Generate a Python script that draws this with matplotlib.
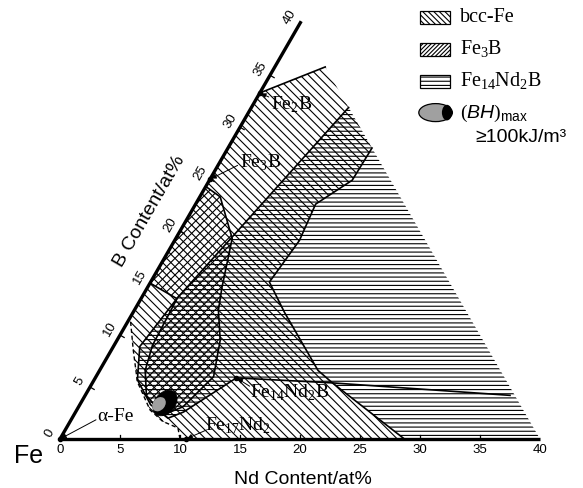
import numpy as np
import matplotlib
matplotlib.use("Agg")
import matplotlib.pyplot as plt
from matplotlib.patches import Polygon, Ellipse, Rectangle

plt.rcParams["mathtext.fontset"] = "custom"
plt.rcParams["mathtext.rm"] = "Liberation Serif"
plt.rcParams["mathtext.it"] = "Liberation Sans:italic"
plt.rcParams["mathtext.sf"] = "Liberation Sans"
plt.rcParams["hatch.linewidth"] = 0.8

# ---------------- data (ternary coordinates: Nd at%, B at%) ----------------
nd_ticks = [0, 5, 10, 15, 20, 25, 30, 35, 40]
b_ticks = [0, 5, 10, 15, 20, 25, 30, 35, 40]

# bcc-Fe region
bcc_nd = [0, 0, 4.2, 12.0, 11.9, 10.0, 10.4, 9.9, 12.6, 18.2, 20.0, 28.7, 10.0, 9.3, 7.7, 6.1, 3.7, 1.8]
bcc_b = [11.7, 33.3, 35.8, 28.0, 24.9, 22.6, 19.1, 15.1, 12.2, 6.6, 5.4, 0, 0, 1.06, 1.7, 2.8, 5.5, 8.6]

# Fe3B region
fe3b_nd = [0, 0, 1.7, 4.7, 6.2, 7.0, 8.6, 9.8, 8.7, 7.4, 5.1, 3.8, 3.2, 3.0]
fe3b_b = [15.0, 24.3, 23.3, 19.3, 14.6, 12.4, 9.5, 6.0, 3.1, 2.3, 4.2, 6.6, 9.0, 13.5]

# Fe14Nd2B region
fe14_nd = [8.1, 40.0, 28.7, 20.0, 11.76, 9.0, 8.0, 5.9, 3.6, 2.2, 3.0]
fe14_b = [31.9, 0, 0, 5.4, 5.88, 2.6, 2.0, 3.3, 5.7, 8.9, 13.6]

# boundary lines
top_nd, top_b = [0, 4.2], [33.3, 35.8]
bccr_nd = [12.0, 11.9, 10.0, 10.4, 9.9, 12.6, 18.2, 20.0, 28.7]
bccr_b = [28.0, 24.9, 22.6, 19.1, 15.1, 12.2, 6.6, 5.4, 0]
bccd_nd = [10.0, 9.3, 7.7, 6.1, 3.7, 1.8, 0]
bccd_b = [0, 1.06, 1.7, 2.8, 5.5, 8.6, 11.7]
fe14l_nd = [8.1, 3.0, 2.2, 3.6, 5.9, 8.0, 9.0, 11.76]
fe14l_b = [31.9, 13.6, 8.9, 5.7, 3.3, 2.0, 2.6, 5.88]
tie_nd, tie_b = [11.76, 20.0, 35.4], [5.88, 5.4, 4.2]

# compounds
comp_names = ["Fe$_2$B", "Fe$_3$B", "Fe$_{14}$Nd$_2$B", "Fe$_{17}$Nd$_2$", "α-Fe"]
comp_nd = [0, 0, 11.76, 10.5, 0]
comp_b = [33.3, 25.0, 5.88, 0, 0]
label_x = [19.3, 16.7, 19.1, 14.8, 4.6]
label_y = [27.9, 23.1, 3.9, 1.15, 1.85]
arrow_from_x = [17.4, 14.8, 15.8, 12.2, 3.0]
arrow_from_y = [28.5, 22.8, 4.4, 0.75, 1.6]

legend_labels = ["bcc-Fe", "Fe$_3$B", "Fe$_{14}$Nd$_2$B"]
legend_hatches = ["\\\\\\\\\\\\", "////////", "----"]


def tern(nd, b):
    nd = np.asarray(nd, dtype=float)
    b = np.asarray(b, dtype=float)
    return nd + b / 2.0, b * np.sqrt(3) / 2.0


fig = plt.figure(figsize=(5.83, 4.88), dpi=100)
ax = fig.add_axes([0, 0, 1, 1])
ax.set_xlim(-5, 43.583)
ax.set_ylim(-4.083, 36.583)
ax.axis("off")

def hpoly(nd, b, hatch):
    x, y = tern(nd, b)
    p = Polygon(np.column_stack([x, y]), closed=True, fill=False,
                hatch=hatch, edgecolor="black", linewidth=0)
    ax.add_patch(p)

hpoly(fe14_nd, fe14_b, "----")
hpoly(bcc_nd, bcc_b, "\\\\\\\\")
hpoly(fe3b_nd, fe3b_b, "////")

def line(nd, b, **kw):
    x, y = tern(nd, b)
    ax.plot(x, y, color="black", **kw)

line(top_nd, top_b, lw=1.2)
line(bccr_nd, bccr_b, lw=1.2)
line(bccd_nd, bccd_b, lw=1.0, ls=(0, (3, 2)))
line(fe14l_nd, fe14l_b, lw=1.2)
line(tie_nd, tie_b, lw=1.2)
x3, y3 = tern(fe3b_nd + [fe3b_nd[0]], fe3b_b + [fe3b_b[0]])
ax.plot(x3[1:], y3[1:], color="black", lw=1.2)

# BH max ellipse
ex, ey = 8.75, 3.0
ax.add_patch(Ellipse((ex, ey), 2.4, 1.7, angle=50, facecolor="black", edgecolor="black", lw=0.5, zorder=5))
ax.add_patch(Ellipse((ex - 0.5, ey - 0.1), 1.3, 1.0, angle=50, facecolor="#a0a0a0", edgecolor="none", zorder=6))

# axes
ax0 = tern([0, 40], [0, 0]); ax.plot(ax0[0], ax0[1], color="black", lw=2.4, solid_capstyle="butt", zorder=7)
ax1 = tern([0, 0], [0, 40.2]); ax.plot(ax1[0], ax1[1], color="black", lw=2.4, solid_capstyle="butt", zorder=7)

sans = "Liberation Sans"
serif = "Liberation Serif"
for v in nd_ticks:
    x, y = tern(v, 0)
    if 0 < v < 40:
        ax.plot([x, x], [0, 0.35], color="black", lw=0.9)
    ax.text(x, -0.95, str(v), ha="center", va="center", fontsize=9.5, family=sans)
px, py = -np.sqrt(3) / 2, 0.5
for v in b_ticks:
    x, y = tern(0, v)
    if 0 < v < 40:
        ax.plot([x, x + 0.4 * 0.866], [y, y - 0.4 * 0.5], color="black", lw=0.9)
    ax.text(x + 0.95 * px, y + 0.95 * py, str(v), ha="center", va="center",
            rotation=60, fontsize=9.5, family=sans)

ax.text(20.25, -3.35, "Nd Content/at%", ha="center", va="center", fontsize=14, family=sans)
ax.text(7.5, 19.0, "B Content/at%", ha="center", va="center", rotation=60, fontsize=14, family=sans)
ax.text(-2.6, -1.45, "Fe", ha="center", va="center", fontsize=18, family=sans)

# compound labels
for name, cn, cb, lx, ly, fx, fy in zip(comp_names, comp_nd, comp_b, label_x, label_y, arrow_from_x, arrow_from_y):
    tx, ty = tern(cn, cb)
    ax.plot([tx], [ty], "o", color="black", ms=3, zorder=8)
    ax.annotate("", xy=(tx, ty), xytext=(fx, fy),
                arrowprops=dict(arrowstyle="-|>", color="black", lw=0.7, mutation_scale=7,
                                shrinkA=0, shrinkB=1))
    ax.text(lx, ly, name, ha="center", va="center", fontsize=14, family=serif)

# legend
lx0, lw_, lh = 30.0, 2.5, 1.08
rows_y = [35.15, 32.45, 29.8]
for lab, h, ry in zip(legend_labels, legend_hatches, rows_y):
    ax.add_patch(Rectangle((lx0, ry - lh / 2), lw_, lh, fill=False, hatch=h,
                           edgecolor="black", lw=0.9))
    ax.text(lx0 + 3.3, ry, lab, ha="left", va="center", fontsize=14.5, family=serif)
ax.add_patch(Ellipse((lx0 + 1.3, 27.2), 2.8, 1.5, facecolor="#a0a0a0", edgecolor="black", lw=0.9))
ax.add_patch(Ellipse((lx0 + 2.25, 27.2), 0.85, 1.3, facecolor="black", edgecolor="none"))
ax.text(lx0 + 3.3, 27.1, r"$\mathit{(BH)}_{\mathsf{max}}$", ha="left", va="center", fontsize=14, family=sans)
ax.text(lx0 + 4.6, 25.15, "≥100kJ/m³", ha="left", va="center", fontsize=14, family=sans)

fig.savefig("out.png", dpi=100)
